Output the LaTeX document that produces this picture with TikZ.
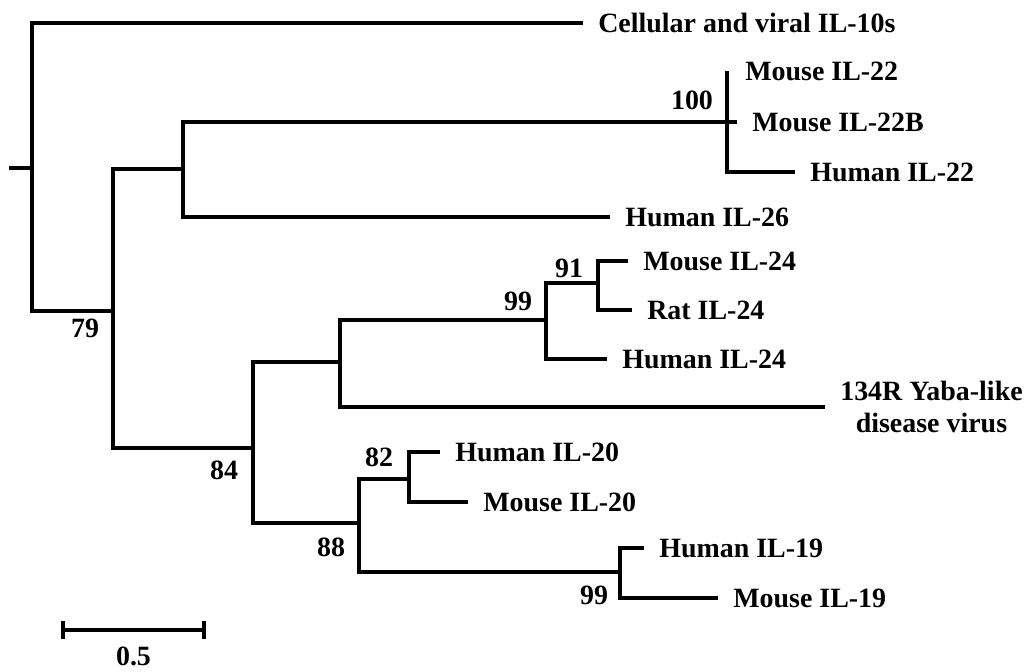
\documentclass[tikz,border=0pt]{standalone}
\usepackage{fontspec}
\setmainfont{Liberation Serif}
\usetikzlibrary{positioning}

\tikzstyle{branch}=[draw=black,line width=2.1pt]
\tikzstyle{leaf}=[anchor=west,inner xsep=8.5pt,inner ysep=0pt,font=\fontsize{15.9}{18}\selectfont\bfseries]
\tikzstyle{boot}=[inner sep=0pt,font=\fontsize{15.9}{18}\selectfont\bfseries]

\begin{document}
\begin{tikzpicture}[x=0.02cm,y=-0.02cm]

   \useasboundingbox (0,0) rectangle (1034,672);

% Inner nodes
   \coordinate (stub) at (9,168);
   \coordinate (root) at (32,168);
   \coordinate (n79) at (113,311);
   \coordinate (n22) at (183,169);
   \coordinate (n100) at (727,122);
   \coordinate (n84) at (253,448);
   \coordinate (n24) at (340,362);
   \coordinate (n99a) at (546,320);
   \coordinate (n91) at (598,283);
   \coordinate (n88) at (359,523);
   \coordinate (n82) at (409,479);
   \coordinate (n99b) at (620,572);

% Leaves
   \node[leaf] (il10) at (583,23) {Cellular and viral IL-10s};
   \node[leaf] (mil22) at (730,71) {Mouse IL-22};
   \node[leaf] (mil22b) at (737,122) {Mouse IL-22B};
   \node[leaf] (hil22) at (795,172) {Human IL-22};
   \node[leaf] (hil26) at (610,217) {Human IL-26};
   \node[leaf] (mil24) at (628,261) {Mouse IL-24};
   \node[leaf] (ril24) at (632,310) {Rat IL-24};
   \node[leaf] (hil24) at (607,359) {Human IL-24};
   \node[leaf,align=center] (yaba) at (825,407) {134R Yaba-like\\disease virus};
   \node[leaf] (hil20) at (440,452) {Human IL-20};
   \node[leaf] (mil20) at (468,502) {Mouse IL-20};
   \node[leaf] (hil19) at (644,548) {Human IL-19};
   \node[leaf] (mil19) at (718,598) {Mouse IL-19};

% Branches
   \draw[branch] (stub) -- (root);
   \draw[branch] (root) |- (il10.west);
   \draw[branch] (root) |- (n79);
   \draw[branch] (n79) |- (n22);
   \draw[branch] (n79) |- (n84);
   \draw[branch] (n22) |- (n100);
   \draw[branch] (n22) |- (hil26.west);
   \draw[branch] (n100) -- (n100 |- mil22.west);
   \draw[branch] (n100) -- (mil22b.west);
   \draw[branch] (n100) |- (hil22.west);
   \draw[branch] (n84) |- (n24);
   \draw[branch] (n84) |- (n88);
   \draw[branch] (n24) |- (n99a);
   \draw[branch] (n24) |- (yaba.west);
   \draw[branch] (n99a) |- (n91);
   \draw[branch] (n99a) |- (hil24.west);
   \draw[branch] (n91) |- (mil24.west);
   \draw[branch] (n91) |- (ril24.west);
   \draw[branch] (n88) |- (n82);
   \draw[branch] (n88) |- (n99b);
   \draw[branch] (n82) |- (hil20.west);
   \draw[branch] (n82) |- (mil20.west);
   \draw[branch] (n99b) |- (hil19.west);
   \draw[branch] (n99b) |- (mil19.west);

% Bootstrap values
   \node[boot] (b79) at (85,328) {79};
   \node[boot] (b100) at (692,100) {100};
   \node[boot] (b99a) at (518,301) {99};
   \node[boot] (b91) at (569,268) {91};
   \node[boot] (b84) at (224,470) {84};
   \node[boot] (b88) at (331,547) {88};
   \node[boot] (b82) at (379,457) {82};
   \node[boot] (b99b) at (594,595) {99};

% Scale bar
   \coordinate (sbl) at (63,630);
   \coordinate (sbr) at (204,630);
   \coordinate (sbm) at (133.5,630);
   \draw[branch] (sbl) -- (sbr);
   \draw[branch] ([yshift=5pt]sbl) -- ([yshift=-5pt]sbl);
   \draw[branch] ([yshift=5pt]sbr) -- ([yshift=-5pt]sbr);
   \node[boot,below=0.34cm of sbm] (sblabel) {0.5};

\end{tikzpicture}
\end{document}
